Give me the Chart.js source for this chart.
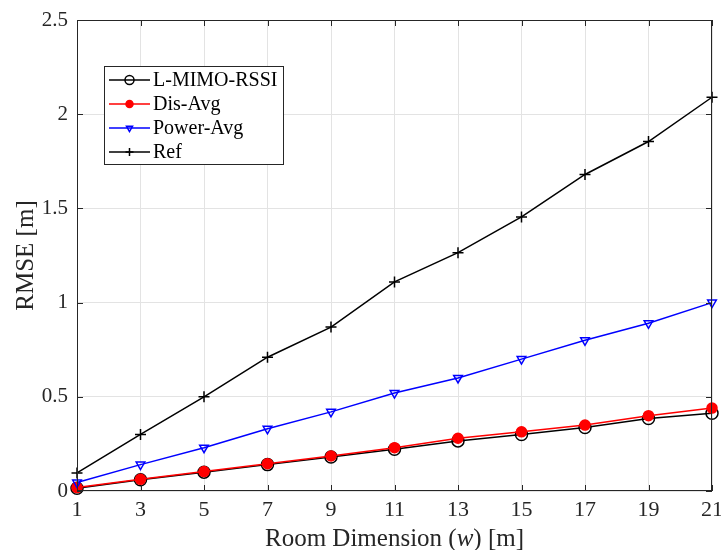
<!DOCTYPE html>
<html>
<head>
<meta charset="utf-8">
<script src="https://cdn.jsdelivr.net/npm/chart.js@4"></script>
<style>
  html, body { margin: 0; padding: 0; background: #fff; }
  #wrap { width: 721px; height: 550px; }
</style>
</head>
<body>
<div id="wrap"><canvas id="rmse"></canvas></div>
<script>
// room width (m) on the x axis
const roomDims = [1, 3, 5, 7, 9, 11, 13, 15, 17, 19, 21];
const lmimoRssi = [0.015, 0.06, 0.10, 0.14, 0.18, 0.222, 0.266, 0.30, 0.337, 0.385, 0.413];
const disAvg    = [0.018, 0.062, 0.103, 0.145, 0.186, 0.23, 0.28, 0.314, 0.35, 0.40, 0.44];
const powerAvg  = [0.045, 0.14, 0.23, 0.33, 0.42, 0.52, 0.60, 0.70, 0.80, 0.89, 1.0];
const refRmse   = [0.096, 0.30, 0.50, 0.71, 0.87, 1.11, 1.265, 1.455, 1.68, 1.855, 2.09];
const xTicks = [1, 3, 5, 7, 9, 11, 13, 15, 17, 19, 21];
const yTicks = [0, 0.5, 1, 1.5, 2, 2.5];

const SERIF = '"Liberation Serif", "DejaVu Serif", serif';
const AXIS = "#262626";

const toPoints = (ys) => roomDims.map((x, i) => ({ x, y: ys[i] }));

const series = [
  { label: "L-MIMO-RSSI", data: lmimoRssi, color: "#000000", style: "circle", radius: 6, fill: false, order: 3 },
  { label: "Dis-Avg", data: disAvg, color: "#ff0000", style: "circle", radius: 5, fill: true, order: 2 },
  { label: "Power-Avg", data: powerAvg, color: "#0000ff", style: "triangle", radius: 5, fill: false, rot: 180, order: 1 },
  { label: "Ref", data: refRmse, color: "#000000", style: "cross", radius: 5.5, fill: false, order: 0 },
];

// box, inward ticks, legend and axis titles in the MATLAB look
const decorations = {
  id: "decorations",
  afterDatasetsDraw(chart) {
    const { ctx, chartArea: a, scales } = chart;
    ctx.save();
    ctx.strokeStyle = AXIS;
    ctx.lineWidth = 1;
    ctx.strokeRect(a.left + 0.5, a.top + 0.5, a.right - a.left - 1, a.bottom - a.top - 1);
    ctx.beginPath();
    xTicks.forEach((t) => {
      const px = Math.round(scales.x.getPixelForValue(t)) + 0.5;
      ctx.moveTo(px, a.bottom); ctx.lineTo(px, a.bottom - 6);
      ctx.moveTo(px, a.top); ctx.lineTo(px, a.top + 6);
    });
    yTicks.forEach((t) => {
      const py = Math.round(scales.y.getPixelForValue(t)) + 0.5;
      ctx.moveTo(a.left, py); ctx.lineTo(a.left + 6, py);
      ctx.moveTo(a.right, py); ctx.lineTo(a.right - 6, py);
    });
    ctx.stroke();

    // legend
    const lx = 104, ly = 66, lw = 179, lh = 98;
    ctx.fillStyle = "#fff";
    ctx.fillRect(lx, ly, lw, lh);
    ctx.strokeStyle = AXIS;
    ctx.strokeRect(lx + 0.5, ly + 0.5, lw, lh);
    ctx.textBaseline = "middle";
    const rows = [80, 104, 128, 152];
    series.forEach((s, i) => {
      const y = rows[i];
      ctx.strokeStyle = s.color;
      ctx.lineWidth = 1.5;
      ctx.beginPath(); ctx.moveTo(109, y); ctx.lineTo(150, y); ctx.stroke();
      ctx.fillStyle = s.fill ? s.color : "rgba(0,0,0,0)";
      Chart.helpers.drawPoint(ctx, {
        pointStyle: s.style, radius: s.radius - 1.5, rotation: s.rot || 0, borderWidth: 1.5,
      }, 129.5, y);
      ctx.fillStyle = "#000";
      ctx.font = "20px " + SERIF;
      ctx.fillText(s.label, 153, y + 1);
    });

    // x axis title with italic w
    ctx.fillStyle = AXIS;
    ctx.textBaseline = "alphabetic";
    const parts = [["Room Dimension (", "25px " + SERIF], ["w", "italic 25px " + SERIF], [") [m]", "25px " + SERIF]];
    let total = 0;
    parts.forEach(([t, f]) => { ctx.font = f; total += ctx.measureText(t).width; });
    let cx = (a.left + a.right) / 2 - total / 2;
    parts.forEach(([t, f]) => { ctx.font = f; ctx.fillText(t, cx, 546); cx += ctx.measureText(t).width; });

    // y axis title
    ctx.translate(33, (a.top + a.bottom) / 2);
    ctx.rotate(-Math.PI / 2);
    ctx.font = "25px " + SERIF;
    ctx.textAlign = "center";
    ctx.fillText("RMSE [m]", 0, 0);
    ctx.restore();
  },
};

new Chart(document.getElementById("rmse"), {
  type: "line",
  data: {
    datasets: series.map((s) => ({
      label: s.label,
      data: toPoints(s.data),
      borderColor: s.color,
      backgroundColor: s.fill ? s.color : "rgba(0,0,0,0)",
      borderWidth: 1.5,
      pointStyle: s.style,
      pointRadius: s.radius,
      pointRotation: s.rot || 0,
      pointBorderWidth: 1.5,
      pointBorderColor: s.color,
      pointBackgroundColor: s.fill ? s.color : "rgba(0,0,0,0)",
      tension: 0,
      order: s.order,
      clip: false,
    })),
  },
  options: {
    responsive: true,
    maintainAspectRatio: false,
    animation: false,
    layout: { padding: { top: 20, right: 9, left: 0, bottom: 0 } },
    plugins: { legend: { display: false }, tooltip: { enabled: false } },
    scales: {
      x: {
        type: "linear",
        min: 1,
        max: 21,
        afterBuildTicks: (s) => { s.ticks = xTicks.map((v) => ({ value: v })); },
        afterFit: (s) => { s.height = 59; s.paddingLeft = 0; s.paddingRight = 0; },
        grid: { color: "#e3e3e3", drawTicks: false },
        border: { display: false },
        ticks: { color: AXIS, font: { family: SERIF, size: 22 }, padding: 6, maxRotation: 0 },
      },
      y: {
        min: 0,
        max: 2.5,
        afterBuildTicks: (s) => { s.ticks = yTicks.map((v) => ({ value: v })); },
        afterFit: (s) => { s.width = 77; s.paddingTop = 0; s.paddingBottom = 0; },
        grid: { color: "#e3e3e3", drawTicks: false },
        border: { display: false },
        ticks: { color: AXIS, font: { family: SERIF, size: 21 }, padding: 9, callback: (v) => String(v) },
      },
    },
  },
  plugins: [decorations],
});
</script>
</body>
</html>
